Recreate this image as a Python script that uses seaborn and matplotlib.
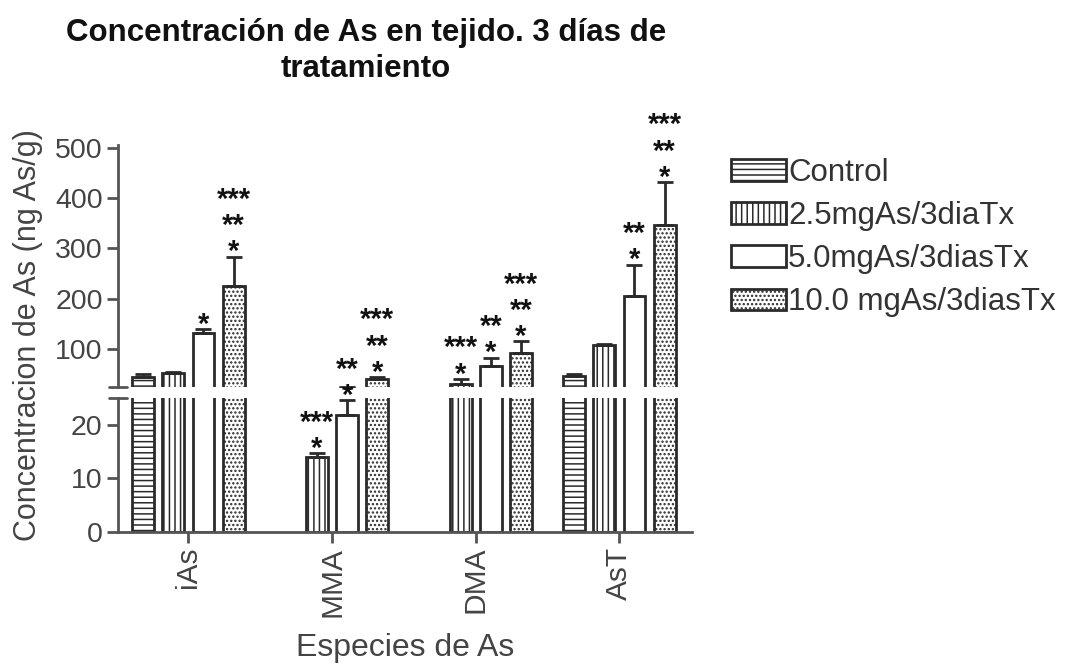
import numpy as np
import pandas as pd
import matplotlib
matplotlib.use("Agg")
import matplotlib.pyplot as plt
import seaborn as sns
from matplotlib.patches import Patch

# ---- data -------------------------------------------------------------
species = ["iAs", "MMA", "DMA", "AsT"]
groups = ["Control", "2.5mgAs/3diaTx", "5.0mgAs/3diasTx", "10.0 mgAs/3diasTx"]

control_mean = [45, np.nan, np.nan, 47]
dose25_mean = [52, 14, 31, 108]
dose50_mean = [132, 21.8, 67, 206]
dose100_mean = [225, 40, 92, 347]

control_err = [5, np.nan, np.nan, 4]
dose25_err = [2, 0.7, 10, 2]
dose50_err = [8, 2.8, 16, 62]
dose100_err = [59, 4, 23, 85]

control_sig = ["", "", "", ""]
dose25_sig = ["", "***\n*", "***\n*", ""]
dose50_sig = ["*", "**\n*", "**\n*", "**\n*"]
dose100_sig = ["***\n**\n*", "***\n**\n*", "***\n**\n*", "***\n**\n*"]

means = [control_mean, dose25_mean, dose50_mean, dose100_mean]
errs = [control_err, dose25_err, dose50_err, dose100_err]
sigs = [control_sig, dose25_sig, dose50_sig, dose100_sig]

rows = []
for g, m_list, e_list in zip(groups, means, errs):
    for s, m, e in zip(species, m_list, e_list):
        if not np.isnan(m):
            rows.append({"species": s, "group": g, "mean": m, "err": e})
df = pd.DataFrame(rows)

# ---- style ------------------------------------------------------------
sns.set_style("white")
plt.rcParams["font.family"] = ["Liberation Sans", "DejaVu Sans"]
plt.rcParams["hatch.linewidth"] = 1.1

EDGE = "#2a2a2a"
SPINE = "#555555"
TXT = "#444444"
hatches = ["---", "|||", "", "...."]
BREAK = 25

fig = plt.figure(figsize=(10.67, 6.66), dpi=100)
ax_top = fig.add_axes([0.1106, 0.4194, 0.5379, 0.3622])
ax_bot = fig.add_axes([0.1106, 0.2017, 0.5379, 0.2002])

bar_sets = {}
for ax in (ax_top, ax_bot):
    sns.barplot(data=df, x="species", y="mean", hue="group",
                order=species, hue_order=groups,
                palette=["white"] * 4, saturation=1,
                edgecolor=EDGE, linewidth=2,
                width=0.84, gap=0.28, errorbar=None, legend=False, ax=ax)
    bar_sets[ax] = list(ax.containers)
    for cont, h in zip(bar_sets[ax], hatches):
        for bar in cont:
            if bar is not None:
                bar.set_hatch(h)
    ax.set_xlim(-0.49, 3.505)

# error bars (upper side only) and significance marks
for gi, cont in enumerate(bar_sets[ax_top]):
    for bar in cont:
        if bar is None:
            continue
        xc = bar.get_x() + bar.get_width() / 2
        si = int(round(xc))
        m = means[gi][si]
        e = errs[gi][si]
        for ax in (ax_top, ax_bot):
            ax.errorbar(xc, m, yerr=[[0], [e]], fmt="none", ecolor=EDGE,
                        elinewidth=2, capsize=6, capthick=2, zorder=3)
        sig = sigs[gi][si]
        if sig:
            top = m + e
            tax = ax_top if top >= BREAK else ax_bot
            for k, row in enumerate(sig.split("\n")[::-1]):
                tax.annotate(row, xy=(xc, top), xytext=(0, 3 + k * 19),
                             textcoords="offset points", ha="center",
                             va="center", fontsize=21, fontweight="bold",
                             color="#111111", annotation_clip=False)

# axes limits and ticks
ax_top.set_ylim(BREAK, 505)
ax_bot.set_ylim(0, BREAK)
ax_top.set_yticks([100, 200, 300, 400, 500])
ax_bot.set_yticks([0, 10, 20])

for ax in (ax_top, ax_bot):
    ax.set_xlabel("")
    ax.set_ylabel("")
    for side in ("top", "right"):
        ax.spines[side].set_visible(False)
    ax.spines["left"].set_color(SPINE)
    ax.spines["left"].set_linewidth(2)
    ax.tick_params(axis="both", direction="out", length=8, width=2,
                   color=SPINE, labelsize=20.5, labelcolor=TXT, pad=3,
                   left=True, bottom=True)

ax_top.spines["bottom"].set_visible(False)
ax_top.tick_params(axis="x", bottom=False, labelbottom=False)
ax_bot.spines["bottom"].set_color(SPINE)
ax_bot.spines["bottom"].set_linewidth(2)
ax_bot.set_xticks(range(len(species)))
ax_bot.set_xticklabels(species, rotation=90, fontsize=21.5)

# break caps on the y axis
ax_top.plot([-0.016, 0.016], [0, 0], transform=ax_top.transAxes,
            color=SPINE, lw=2, clip_on=False)
ax_bot.plot([-0.016, 0.016], [1, 1], transform=ax_bot.transAxes,
            color=SPINE, lw=2, clip_on=False)

# titles and labels
fig.text(0.343, 1 - 51 / 666,
         "Concentración de As en tejido. 3 días de\ntratamiento",
         ha="center", va="center", fontsize=22.5, fontweight="bold",
         color="#111111", linespacing=1.22)
fig.text(28 / 1067, 1 - 335 / 666, "Concentracion de As (ng As/g)",
         rotation=90, ha="center", va="center", fontsize=22, color=TXT)
fig.text(405 / 1067, 1 - 648 / 666, "Especies de As",
         ha="center", va="center", fontsize=23, color=TXT)

# legend
handles = [Patch(facecolor="white", edgecolor=EDGE, hatch=h, linewidth=2,
                 label=g) for g, h in zip(groups, hatches)]
leg = fig.legend(handles=handles, loc="upper left",
                 bbox_to_anchor=(731 / 1067, 1 - 158 / 666), frameon=False,
                 fontsize=22.5, handlelength=1.75, handleheight=0.7,
                 handletextpad=0.08, labelspacing=0.42, borderaxespad=0,
                 borderpad=0)
for t in leg.get_texts():
    t.set_color("#333333")

fig.savefig("out.png", dpi=100)
